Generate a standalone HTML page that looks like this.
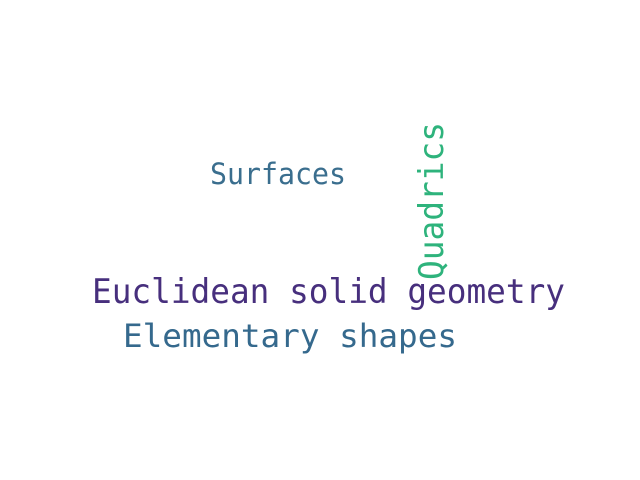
<!DOCTYPE html>
<html><head><meta charset="utf-8"><style>
html,body{margin:0;padding:0;background:#fff;}
svg{display:block;}
text{font-family:"DejaVu Sans Mono","Liberation Mono",monospace;}
</style></head><body>
<svg width="640" height="480">
<rect width="640" height="480" fill="#fff"/>
<text x="210" y="184" font-size="29" fill="#3a6e8e" textLength="136" lengthAdjust="spacingAndGlyphs">Surfaces</text>
<text transform="translate(443,280) rotate(-90)" font-size="34" fill="#2eb37c" textLength="158" lengthAdjust="spacingAndGlyphs">Quadrics</text>
<text x="92" y="303" font-size="34" fill="#472f7d" textLength="473" lengthAdjust="spacingAndGlyphs">Euclidean solid geometry</text>
<text x="123" y="347" font-size="32" fill="#35698d" textLength="334" lengthAdjust="spacingAndGlyphs">Elementary shapes</text>
</svg>
</body></html>
